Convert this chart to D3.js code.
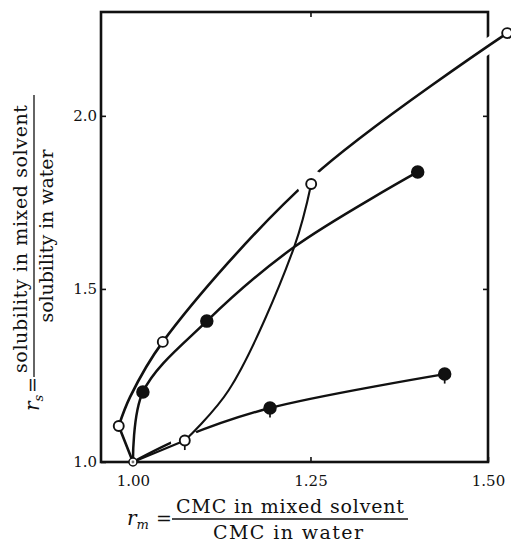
<!DOCTYPE html>
<html lang="en">

<head>
    <meta charset="UTF-8">
    <title>Solubility ratio against CMC ratio</title>

    <script src="https://d3js.org/d3.v7.min.js"></script>

    <style>
        body {
            margin: 0;
            background: #fff;
        }

        svg {
            display: block;
        }

        .tick text {
            font-family: "DejaVu Serif", serif;
            font-size: 15px;
            fill: #111;
        }

        .title {
            font-family: "DejaVu Serif", serif;
            font-size: 19px;
            fill: #111;
        }
    </style>
</head>

<body>
    <svg width="511" height="545"></svg>

    <script>
        // tick labels
        const xTicks = [1.00, 1.25, 1.50];
        const yTicks = [1.0, 1.5, 2.0];

        // open circles, outer curve
        const outerX = [1.000, 0.980, 0.996, 1.042, 1.251, 1.527];
        const outerY = [1.000, 1.104, 1.188, 1.347, 1.820, 2.239];
        const outerMarks = ["none", "open", "none", "open", "none", "open"];

        // filled circles, upper curve
        const upperX = [1.000, 1.014, 1.104, 1.227, 1.401];
        const upperY = [1.000, 1.202, 1.407, 1.621, 1.838];
        const upperMarks = ["none", "filled", "filled", "none", "filled"];

        // open circles, thin curve that crosses the others
        const thinX = [1.000, 1.073, 1.135, 1.227, 1.251];
        const thinY = [1.000, 1.062, 1.208, 1.621, 1.803];
        const thinMarks = ["none", "open-tail", "none", "none", "open"];

        // filled circles, lower curve
        const lowerX = [1.000, 1.073, 1.193, 1.439];
        const lowerY = [1.000, 1.073, 1.156, 1.254];
        const lowerMarks = ["none", "none", "filled-tail", "filled-tail"];

        // common starting point
        const originX = [1.00];
        const originY = [1.00];

        const svg = d3.select("svg");

        const x = d3.scaleLinear().domain([0.955, 1.50]).range([101, 488]);
        const y = d3.scaleLinear().domain([1.0, 2.30]).range([462, 12]);

        function toPoints(xs, ys, marks) {
            return xs.map(function (v, i) {
                return { x: v, y: ys[i], mark: marks ? marks[i] : "none" };
            });
        }

        const outer = toPoints(outerX, outerY, outerMarks);
        const upper = toPoints(upperX, upperY, upperMarks);
        const thin = toPoints(thinX, thinY, thinMarks);
        const lower = toPoints(lowerX, lowerY, lowerMarks);

        const line = d3.line()
            .x(function (d) { return x(d.x) })
            .y(function (d) { return y(d.y) })
            .curve(d3.curveCatmullRom.alpha(0.5));

        // axes with inside ticks, the frame is drawn separately
        function styleAxis(g) {
            g.select(".domain").remove();
            g.selectAll(".tick line").attr("stroke", "#111").attr("stroke-width", 1.6);
        }

        svg.append("g")
            .attr("transform", "translate(0," + y(1.0) + ")")
            .call(d3.axisBottom(x).tickValues(xTicks).tickFormat(d3.format(".2f"))
                .tickSizeInner(-5).tickSizeOuter(0).tickPadding(13))
            .call(styleAxis);

        svg.append("g")
            .attr("transform", "translate(0," + y(2.30) + ")")
            .call(d3.axisTop(x).tickValues([1.25]).tickFormat("")
                .tickSizeInner(-5).tickSizeOuter(0))
            .call(styleAxis);

        svg.append("g")
            .attr("transform", "translate(" + x(0.955) + ",0)")
            .call(d3.axisLeft(y).tickValues(yTicks).tickFormat(d3.format(".1f"))
                .tickSizeInner(-5).tickSizeOuter(0).tickPadding(4))
            .call(styleAxis);

        svg.append("g")
            .attr("transform", "translate(" + x(1.50) + ",0)")
            .call(d3.axisRight(y).tickValues([1.5, 2.0]).tickFormat("")
                .tickSizeInner(-5).tickSizeOuter(0))
            .call(styleAxis);

        svg.selectAll(".tick text").attr("fill", "#111");

        // frame
        svg.append("rect")
            .attr("x", x(0.955))
            .attr("y", y(2.30))
            .attr("width", x(1.50) - x(0.955))
            .attr("height", y(1.0) - y(2.30))
            .attr("fill", "none")
            .attr("stroke", "#111")
            .attr("stroke-width", 2.6);

        // the outer curve breaks the right side of the frame
        svg.append("clipPath").attr("id", "rightEdge")
            .append("rect")
            .attr("x", x(1.50) - 6).attr("y", 0)
            .attr("width", 12).attr("height", y(1.5));

        svg.append("path")
            .attr("d", line(outer.slice(1)))
            .attr("fill", "none")
            .attr("stroke", "#fff")
            .attr("stroke-width", 15)
            .attr("clip-path", "url(#rightEdge)");

        function drawCurve(path, width) {
            svg.append("path")
                .attr("d", path)
                .attr("fill", "none")
                .attr("stroke", "#111")
                .attr("stroke-width", width)
                .attr("stroke-linecap", "round")
                .attr("stroke-linejoin", "round");
        }

        // outer and thin curves leave the origin with a corner at their first circle
        drawCurve(line(outer.slice(0, 2)), 2.6);
        drawCurve(line(outer.slice(1)), 2.6);
        drawCurve(line(lower), 2.4);

        // white gaps round the circles of the thin curve
        svg.append("g")
            .selectAll("circle")
            .data(thin.filter(function (d) { return d.mark != "none" }))
            .enter()
            .append("circle")
            .attr("cx", function (d) { return x(d.x) })
            .attr("cy", function (d) { return y(d.y) })
            .attr("r", 14)
            .attr("fill", "#fff");

        drawCurve(line(upper), 2.5);
        drawCurve(line(thin.slice(0, 2)), 2.1);
        drawCurve(line(thin.slice(1)), 2.1);

        // markers
        const marked = outer.concat(upper, thin, lower)
            .filter(function (d) { return d.mark != "none" });

        const markG = svg.append("g");

        markG.selectAll("line")
            .data(marked.filter(function (d) { return d.mark.endsWith("tail") }))
            .enter()
            .append("line")
            .attr("x1", function (d) { return x(d.x) })
            .attr("x2", function (d) { return x(d.x) })
            .attr("y1", function (d) { return y(d.y) })
            .attr("y2", function (d) { return y(d.y) + 9.5 })
            .attr("stroke", "#111")
            .attr("stroke-width", 1.7);

        markG.selectAll("circle")
            .data(marked)
            .enter()
            .append("circle")
            .attr("cx", function (d) { return x(d.x) })
            .attr("cy", function (d) { return y(d.y) })
            .attr("r", function (d) { return d.mark.startsWith("open") ? 5 : 5.8 })
            .attr("fill", function (d) { return d.mark.startsWith("open") ? "#fff" : "#111" })
            .attr("stroke", "#111")
            .attr("stroke-width", 1.9);

        const originG = svg.append("g");
        originG.selectAll("circle.ring")
            .data(originX)
            .enter()
            .append("circle")
            .attr("cx", function (d) { return x(d) })
            .attr("cy", function (d, i) { return y(originY[i]) })
            .attr("r", 4)
            .attr("fill", "#fff")
            .attr("stroke", "#111")
            .attr("stroke-width", 1.5);
        originG.selectAll("circle.dot")
            .data(originX)
            .enter()
            .append("circle")
            .attr("cx", function (d) { return x(d) })
            .attr("cy", function (d, i) { return y(originY[i]) })
            .attr("r", 1.4)
            .attr("fill", "#777");

        // x title: r_m = CMC in mixed solvent / CMC in water
        const xTitle = svg.append("g").attr("class", "title");
        xTitle.append("text")
            .attr("x", 290).attr("y", 513)
            .attr("text-anchor", "middle")
            .attr("textLength", 228).attr("lengthAdjust", "spacing")
            .text("CMC in mixed solvent");
        xTitle.append("line")
            .attr("x1", 172).attr("x2", 408)
            .attr("y1", 519).attr("y2", 519)
            .attr("stroke", "#111").attr("stroke-width", 1.3);
        xTitle.append("text")
            .attr("x", 288).attr("y", 539)
            .attr("text-anchor", "middle")
            .attr("textLength", 150).attr("lengthAdjust", "spacing")
            .text("CMC in water");
        const rm = xTitle.append("text").attr("x", 127).attr("y", 525);
        rm.append("tspan").attr("font-style", "italic").attr("font-size", 20).text("r");
        rm.append("tspan").attr("font-style", "italic").attr("font-size", 13).attr("dy", 4).text("m");
        xTitle.append("text")
            .attr("x", 172).attr("y", 525)
            .attr("text-anchor", "end")
            .text("=");

        // y title, turned to read upwards
        const yTitle = svg.append("g").attr("class", "title").attr("transform", "rotate(-90)");
        yTitle.append("text")
            .attr("x", -239).attr("y", 27)
            .attr("text-anchor", "middle")
            .attr("textLength", 268).attr("lengthAdjust", "spacing")
            .text("solubility in mixed solvent");
        yTitle.append("line")
            .attr("x1", -377).attr("x2", -95)
            .attr("y1", 34).attr("y2", 34)
            .attr("stroke", "#111").attr("stroke-width", 1.3);
        yTitle.append("text")
            .attr("x", -236).attr("y", 53)
            .attr("text-anchor", "middle")
            .attr("textLength", 173).attr("lengthAdjust", "spacing")
            .text("solubility in water");
        const rs = yTitle.append("text").attr("x", -411).attr("y", 39);
        rs.append("tspan").attr("font-style", "italic").attr("font-size", 20).text("r");
        rs.append("tspan").attr("font-style", "italic").attr("font-size", 13).attr("dy", 4).text("s");
        yTitle.append("text")
            .attr("x", -377).attr("y", 39)
            .attr("text-anchor", "end")
            .text("=");
    </script>
</body>

</html>
